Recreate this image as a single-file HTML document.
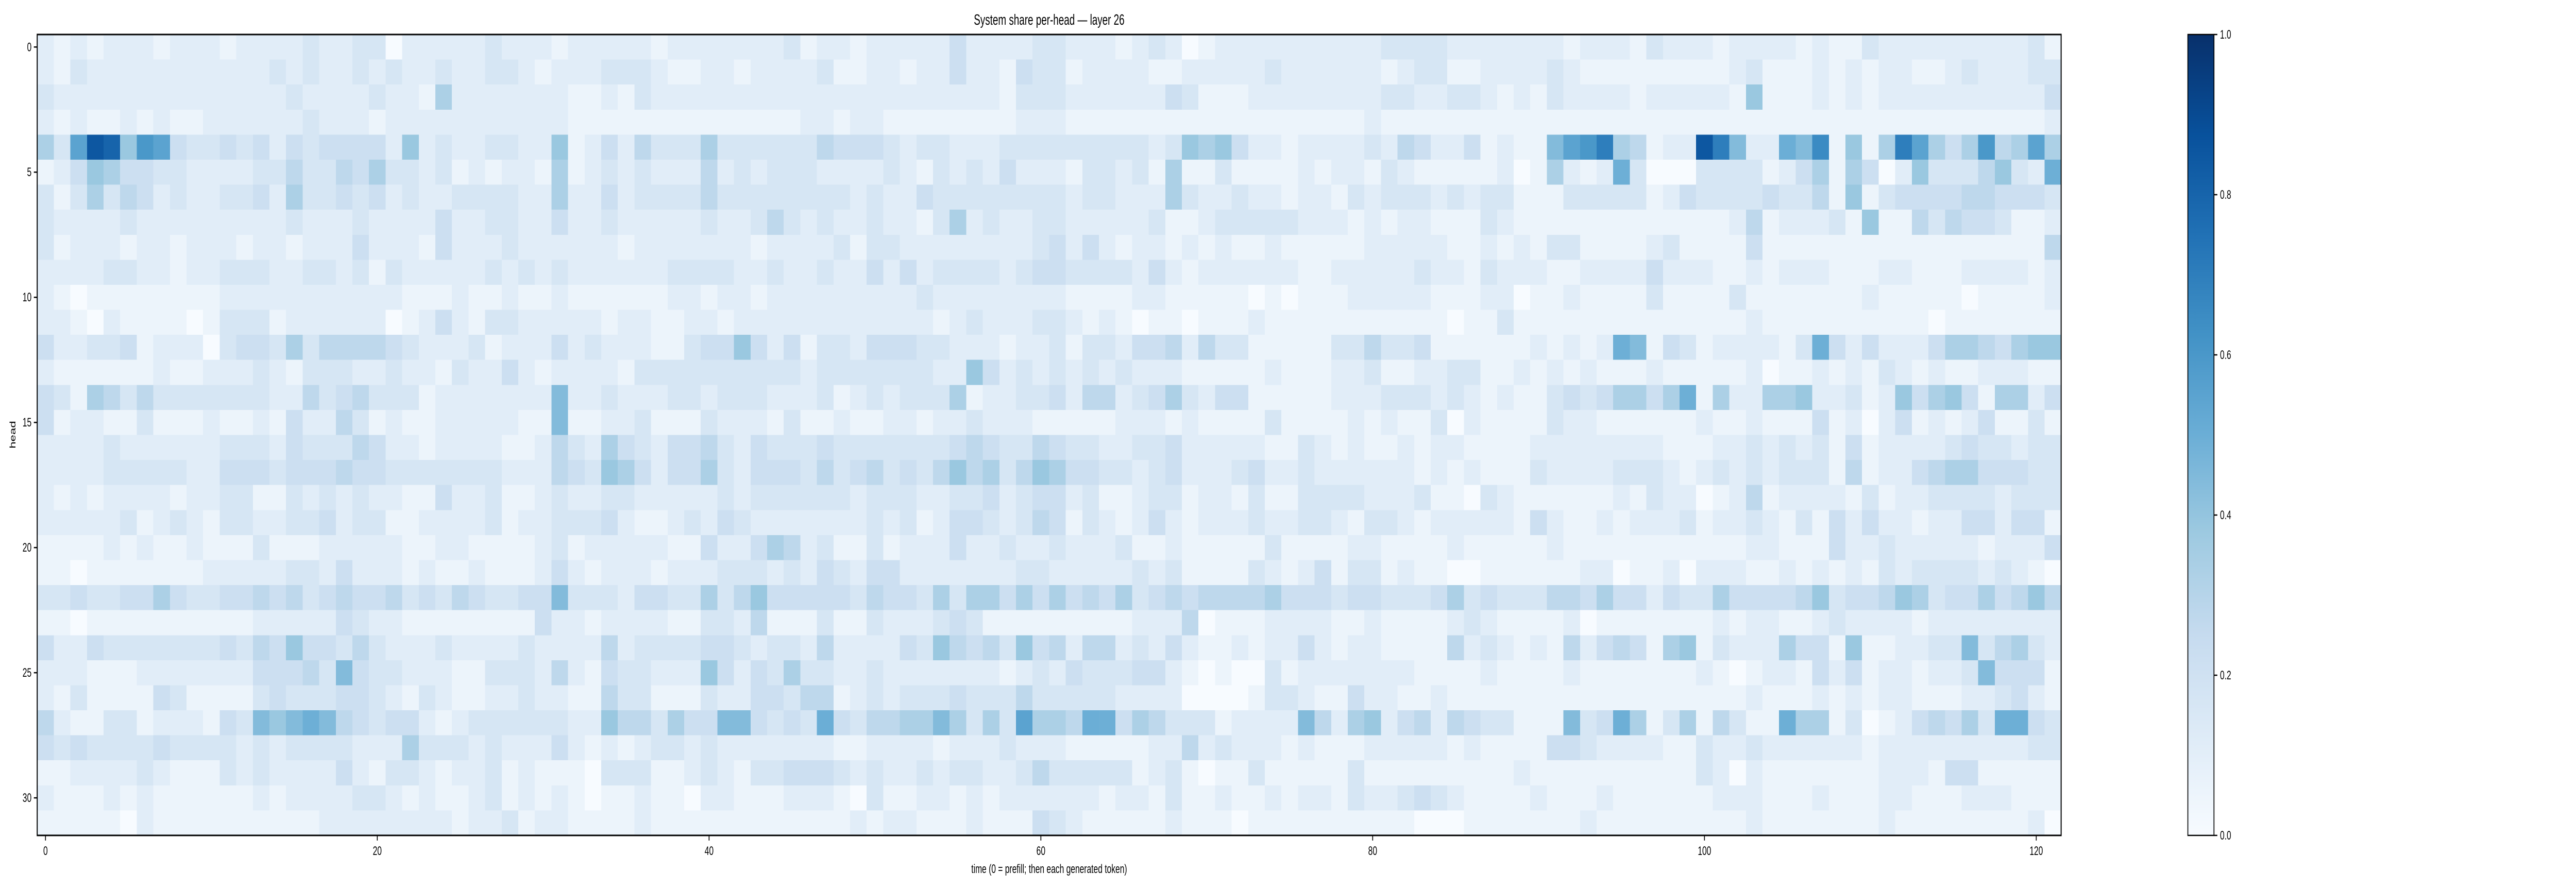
<!DOCTYPE html>
<html><head><meta charset="utf-8"><style>
html,body{margin:0;padding:0;background:#fff;width:100%;height:100%;overflow:hidden;}
svg{display:block;position:absolute;left:0;top:0;width:100vw;height:100vh;font-family:"Liberation Sans",sans-serif;}
</style></head><body>
<svg id="fig" viewBox="0 0 7685 1728" preserveAspectRatio="none" xmlns="http://www.w3.org/2000/svg">
<rect width="7685" height="1728" fill="#fff"/>
<text x="3130" y="48" text-anchor="middle" font-size="29">System share per-head — layer 26</text>
<g id="cells" shape-rendering="crispEdges"></g>
<rect x="111" y="67" width="6038" height="1555" fill="none" stroke="#000" stroke-width="3"/>
<g id="xticks"></g>
<g id="yticks"></g>
<text x="3130" y="1695" text-anchor="middle" font-size="24">time (0 = prefill; then each generated token)</text>
<text x="46" y="844" text-anchor="middle" font-size="24" transform="rotate(-90 46 844)">head</text>
<defs><linearGradient id="cbgrad" x1="0" y1="1" x2="0" y2="0">
<stop offset="0" stop-color="#f7fbff"/><stop offset="0.125" stop-color="#deebf7"/><stop offset="0.25" stop-color="#c6dbef"/><stop offset="0.375" stop-color="#9ecae1"/><stop offset="0.5" stop-color="#6baed6"/><stop offset="0.625" stop-color="#4292c6"/><stop offset="0.75" stop-color="#2171b5"/><stop offset="0.875" stop-color="#08519c"/><stop offset="1" stop-color="#08306b"/>
</linearGradient></defs>
<rect x="6527" y="67" width="78" height="1555" fill="url(#cbgrad)" stroke="#000" stroke-width="2.5"/>
<g id="cbticks"></g>
</svg>
<script>
const xTickValues = [0,20,40,60,80,100,120];
const yTickValues = [0,5,10,15,20,25,30];
const cbTickValues = [0.0,0.2,0.4,0.6,0.8,1.0];
const cbTickLabels = ["0.0","0.2","0.4","0.6","0.8","1.0"];
// one string per head row (0..31); each char = one time step; digit d => d*0.055, letters A.. => 0.5+0.05*i
const headRows = [
"2121222122212222322330222223222"+"1222221222222231221222224222233"+"2221232012222222222333322222221"+"22213222122221211322222222231",
"2132222222222232322323223223321"+"2223332112212222311221224221433"+"1222211222223222222123311222232"+"11111111123111212122112322233",
"3222222222222223222232216222222"+"2112132222222222222222222221333"+"2222224311122222222332233212132"+"22212222217111212122222222224",
"2121121211222222322212222222222"+"2111111111111112212211111111222"+"1111111111111111112111111111111"+"11111111111111111111111111112",
"63BHG7CB43343424344442723223322"+"7124253336333333544432332223333"+"333332376742212222325422412118B"+"CE65122HE822A8D1716EB646C56B6",
"1247644332222335335463323121221"+"6123232225232333222232132324222"+"1332316113111121221321111120162"+"129300033331246164027333573294",
"3136354232233426334342322333322"+"6224233335333333332322433333333"+"2332226322322122132333232331113"+"33331243333433517134444554443",
"3222232222222223222322224223322"+"4223222223223532322322136232233"+"2222231123333322212122111321111"+"11111111125122231711535443112",
"3122212212221221222422214222322"+"2222122222221222231332222222234"+"2421221212112111112222211212133"+"11112311114111111111111111115",
"2222332212233322332313222223232"+"3222222333322322322424233332344"+"3333242122222211222223221322211"+"22224222112122211122111222212",
"2101111111122222222222111211211"+"2111111221221222222222322222222"+"1111221111101011122222111220112"+"11113111131111111211111011112",
"2210211110133312222220124213322"+"2221221122122222222222212322233"+"2121011011121111111111101131111"+"11111111112111111111101111111",
"4223341222034436355554322231222"+"4232221134474241332444332221223"+"1332445253311111335334111111212"+"129814312222139424222466546772",
"2111111211222321333223221322421"+"2222133333333332333333322742323"+"2323222111112111223112233112121"+"21112111112011212132121122211",
"4316535333333322534533312222222"+"8223222332333222312323336122334"+"2552346324411111222333232121134"+"34664691622667223127467416624",
"4122113111211214225312112222211"+"8112231113222131121122122322211"+"1112221211113111121211302111132"+"21111112112111412024121241131",
"2222322222233324333542212222112"+"5326432445324333433333334543354"+"3322334222221132121121221111222"+"22222111223232314122223433233",
"2222333332244434445443333333222"+"5437642446324443534534357563576"+"4433234222342232222221212111322"+"22333212323233315122456644433",
"2121222212233113232322114223112"+"3223322222323333332333223342344"+"2311233122131133332223110321111"+"11213220125122221312233332333",
"2222231232133223342331122223122"+"3334211232432222222323124432354"+"1321242122232233213321222221421"+"12122231223213142422122442441",
"1111212112111311122222112211112"+"3122222114224652311312224223223"+"2223112111113111122111121111121"+"111111111122111422322222122241",
"1101111111222223324222121121112"+"4212221222333232432442222222332"+"2222323111132124133121100111111"+"22011202221121212132333323210",
"3343344643344545345445343543344"+"8333244336357444443544363664646"+"4546345455556444344333463433355"+"46442433644445734457634464575",
"1101111111111222224322111111114"+"2212222113325111311322234311111"+"1111222501112222112111123211112"+"01111111212211232222122222222",
"4224333333343547443532223222232"+"2225233334432332522224375453745"+"2552324211212242122111152321215"+"24541671322264417112233835632",
"2221112222222444538433222113332"+"5214332227424363322322222221232"+"4333442101003122222221111211112"+"11111112101221424122122384441",
"2131111431111343334432132112232"+"2115331113224435512323334333533"+"3332222000013321142211211111111"+"11111111112111212122111223421",
"5211331222143878985434421233333"+"3227553644884343A4355668636"+"3B66"+"5A94653331222285267245254331118"+"34961361531196613012454639943",
"4343333433332323333222633323222"+"4212123323222222211222212223222"+"1111122523222121112222212111144"+"32222113223222222122222222233",
"1122223211132322224213321223121"+"1103331123213344432322323322353"+"3333123101131111131111111112111"+"11111113202111111122214411111",
"2111212111111212222332121123121"+"2101121102211122210311221212222"+"2212213112112122132234321111211"+"12111111222111211122111222111",
"1111102111111111122222222122312"+"2111121111111111112122111211143"+"2111112111011111111110001111111"+"21111111112111111121111111120"
];

const X0=111, Y0=67, W=6038, H=1555, NC=122, NR=32;
const cw=W/NC, rh=H/NR;
function xScale(v){return X0+(v+0.5)*cw;}
function yScale(v){return Y0+(v+0.5)*rh;}
function cbScale(v){return Y0+H-v*H;}
function decode(ch){
  if(ch>='0'&&ch<='9') return (+ch)*0.055;
  return 0.5+0.05*(ch.charCodeAt(0)-65);
}
const stops=[[247,251,255],[222,235,247],[198,219,239],[158,202,225],[107,174,214],[66,146,198],[33,113,181],[8,81,156],[8,48,107]];
function blues(v){
  v=Math.max(0,Math.min(1,v))*8; const i=Math.min(7,Math.floor(v)); const t=v-i;
  const a=stops[i],b=stops[i+1];
  return 'rgb('+a.map((c,k)=>Math.round(c+(b[k]-c)*t)).join(',')+')';
}
const NS='http://www.w3.org/2000/svg';
const cells=document.getElementById('cells');
headRows.forEach((row,r)=>{
  const s=row.slice(0,NC);
  for(let c=0;c<s.length;c++){
    const rect=document.createElementNS(NS,'rect');
    
    
    const x=xScale(c)-cw/2;
    const w=Math.min(cw+0.8, X0+W-x);
    rect.setAttribute('x',x.toFixed(2));
    rect.setAttribute('y',(yScale(r)-rh/2).toFixed(2));
    rect.setAttribute('width',w.toFixed(2));
    rect.setAttribute('height',(rh+0.8).toFixed(2));
    rect.setAttribute('fill',blues(decode(s[c])));
    cells.appendChild(rect);
  }
});
const xt=document.getElementById('xticks');
xTickValues.forEach(v=>{
  const x=xScale(v);
  const l=document.createElementNS(NS,'line');
  
  
  l.setAttribute('x1',x);l.setAttribute('x2',x);l.setAttribute('y1',1622);l.setAttribute('y2',1632);
  l.setAttribute('stroke','#000');l.setAttribute('stroke-width','2.5');xt.appendChild(l);
  const t=document.createElementNS(NS,'text');
  
  
  t.setAttribute('x',x);t.setAttribute('y',1660);t.setAttribute('text-anchor','middle');t.setAttribute('font-size','24');
  t.textContent=String(v);xt.appendChild(t);
});
const yt=document.getElementById('yticks');
yTickValues.forEach(v=>{
  const y=yScale(v);
  const l=document.createElementNS(NS,'line');
  
  
  l.setAttribute('x1',101);l.setAttribute('x2',111);l.setAttribute('y1',y);l.setAttribute('y2',y);
  l.setAttribute('stroke','#000');l.setAttribute('stroke-width','2.5');yt.appendChild(l);
  const t=document.createElementNS(NS,'text');
  
  
  t.setAttribute('x',94);t.setAttribute('y',y+8);t.setAttribute('text-anchor','end');t.setAttribute('font-size','24');
  t.textContent=String(v);yt.appendChild(t);
});
const cbt=document.getElementById('cbticks');
cbTickValues.forEach((v,i)=>{
  const y=cbScale(v);
  const l=document.createElementNS(NS,'line');
  
  
  l.setAttribute('x1',6605);l.setAttribute('x2',6615);l.setAttribute('y1',y);l.setAttribute('y2',y);
  l.setAttribute('stroke','#000');l.setAttribute('stroke-width','2.5');cbt.appendChild(l);
  const t=document.createElementNS(NS,'text');
  
  
  t.setAttribute('x',6623);t.setAttribute('y',y+8);t.setAttribute('font-size','24');
  t.textContent=cbTickLabels[i];cbt.appendChild(t);
});
</script>
</body></html>
